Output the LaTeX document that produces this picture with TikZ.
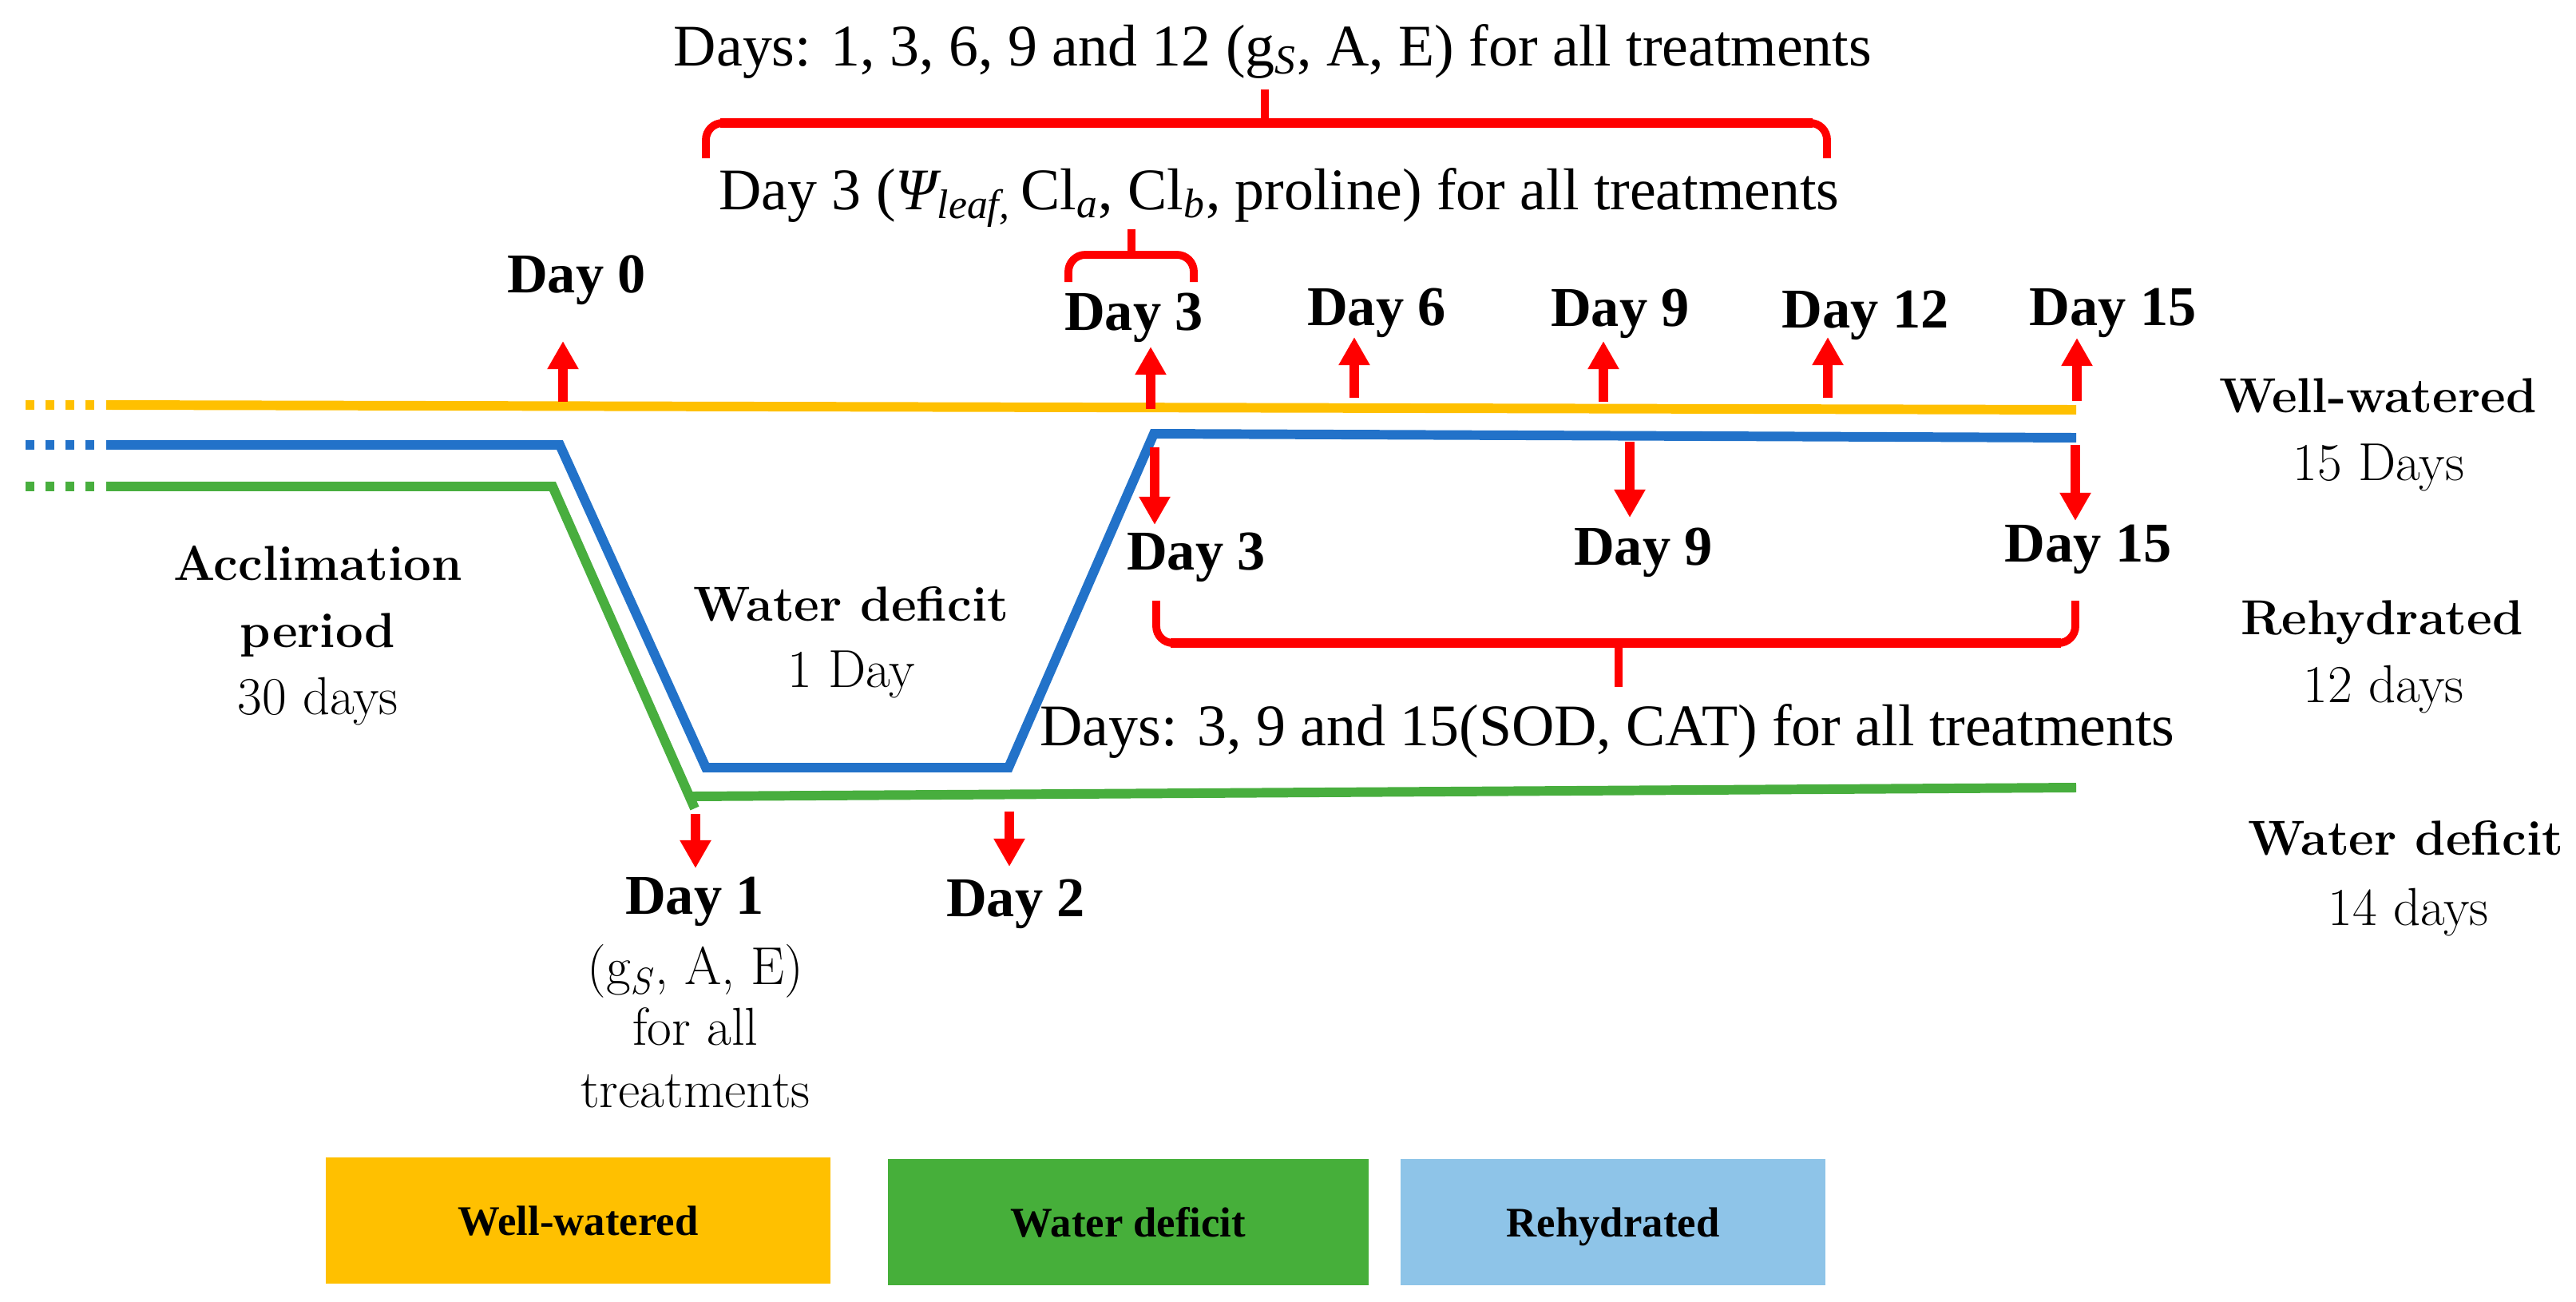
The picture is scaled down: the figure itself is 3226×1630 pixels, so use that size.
\documentclass[tikz,border=0pt]{standalone}
\usepackage{fontspec}
\newfontfamily\tnr{Liberation Serif}
\usetikzlibrary{arrows.meta}
\definecolor{wwY}{HTML}{FFC000}
\definecolor{rhB}{HTML}{2272C9}
\definecolor{wdG}{HTML}{48AE3E}
\definecolor{redA}{HTML}{FF0000}
\definecolor{boxG}{HTML}{46AF3A}
\definecolor{boxB}{HTML}{8EC4E8}
\begin{document}
\begin{tikzpicture}[x=0.01cm,y=-0.01cm,
  tline/.style={line width=3.4pt, line join=miter},
  dotline/.style={line width=3.4pt, dash pattern=on 3.1pt off 4pt},
  redarr/.style={draw=redA, line width=3.2pt, -{Triangle[width=10.5pt,length=10pt]}},
  brc/.style={draw=redA, line width=2.8pt, rounded corners=6pt},
  brcbar/.style={draw=redA, line width=3.4pt},
  toptxt/.style={font=\tnr\fontsize{21}{25}\selectfont, anchor=base, inner sep=0pt},
  dayl/.style={font=\tnr\bfseries\fontsize{20}{24}\selectfont, anchor=base, inner sep=0pt},
  pb/.style={font=\bfseries\fontsize{17.5}{21}\selectfont, anchor=base, inner sep=0pt},
  pr/.style={font=\fontsize{19}{23}\selectfont, anchor=base, inner sep=0pt},
  legbox/.style={draw=none, minimum height=1.58cm, inner sep=0pt, text depth=0pt,
     font=\tnr\bfseries\fontsize{15}{18}\selectfont}]
\useasboundingbox (0,0) rectangle (3226,1630);
\fill[white] (0,0) rectangle (3226,1630);

% ---------- timelines ----------
\draw[dotline, wwY] (32,507) -- (121,507);
\draw[dotline, rhB] (32,557) -- (121,557);
\draw[dotline, wdG] (32,609) -- (121,609);
\draw[tline, wwY] (133,507) -- (2600,513);
\draw[tline, wdG] (133,609) -- (692,609) -- (870,1012);
\draw[tline, wdG] (866,997) -- (2600,986);
\draw[tline, rhB] (133,557) -- (701,557) -- (884,961) -- (1263,961) -- (1445,543) -- (2600,548);

% ---------- top texts and braces ----------
\node[toptxt] (t1) at (1594,82) {Days: 1, 3, 6, 9 and 12 (g\textsubscript{\textit{S}}, A, E) for all treatments};
\node[toptxt] (t2) at (1602,262) {Day 3 (\textit{Ψ\textsubscript{leaf,}}\,Cl\textsubscript{\textit{a}}, Cl\textsubscript{\textit{b}}, proline) for all treatments};
\node[toptxt] (t3) at (2013,933) {Days: 3, 9 and 15(SOD, CAT) for all treatments};

\draw[brc] (884,198) -- (884,154) -- (2288,154) -- (2288,198);
\draw[brcbar] (902,154) -- (2270,154);
\draw[redA, line width=2.6pt] (1584,154) -- (1584,112);

\draw[brc] (1338,353) -- (1338,319) -- (1495,319) -- (1495,353);
\draw[redA, line width=2.6pt] (1417,319) -- (1417,287);

\draw[brc] (1448,752) -- (1448,805) -- (2599,805) -- (2599,752);
\draw[brcbar] (1466,805) -- (2581,805);
\draw[redA, line width=2.6pt] (2027,805) -- (2027,860);

% ---------- upper day labels and arrows ----------
\node[dayl] (u0) at (722,366) {Day 0};
\node[dayl] (u3) at (1420,413) {Day 3};
\node[dayl] (u6) at (1724,407) {Day 6};
\node[dayl] (u9) at (2029,408) {Day 9};
\node[dayl] (u12) at (2336,410) {Day 12};
\node[dayl] (u15) at (2646,407) {Day 15};

\coordinate (s0) at (705,503);  \coordinate (e0) at (705,427);
\coordinate (s3) at (1441,512); \coordinate (e3) at (1441,434);
\coordinate (s6) at (1696,498); \coordinate (e6) at (1696,422);
\coordinate (s9) at (2008,503); \coordinate (e9) at (2008,427);
\coordinate (s12) at (2289,498); \coordinate (e12) at (2289,422);
\coordinate (s15) at (2601,502); \coordinate (e15) at (2601,423);
\foreach \k in {0,3,6,9,12,15} \draw[redarr] (s\k) -- (e\k);

% ---------- lower day labels and arrows ----------
\node[dayl] (d3) at (1498,713) {Day 3};
\node[dayl] (d9) at (2058,707) {Day 9};
\node[dayl] (d15) at (2615,703) {Day 15};
\node[dayl] (d1) at (870,1144) {Day 1};
\node[dayl] (d2) at (1272,1147) {Day 2};

\coordinate (ds3) at (1446,560);  \coordinate (de3) at (1446,657);
\coordinate (ds9) at (2041,553);  \coordinate (de9) at (2041,648);
\coordinate (ds15) at (2599,557); \coordinate (de15) at (2599,652);
\coordinate (ds1) at (871,1019);  \coordinate (de1) at (871,1087);
\coordinate (ds2) at (1264,1016); \coordinate (de2) at (1264,1085);
\foreach \k in {3,9,15,1,2} \draw[redarr] (ds\k) -- (de\k);

% ---------- Day 1 details ----------
\node[pr] (g1) at (871,1232) {(g\textsubscript{\textit{S}}, A, E)};
\node[pr] (g2) at (871,1308) {for all};
\node[pr] (g3) at (871,1386) {treatments};

% ---------- phase labels ----------
\node[pb] (ac1) at (398,726) {Acclimation};
\node[pb] (ac2) at (398,810) {period};
\node[pr] (ac3) at (398,894) {30 days};

\node[pb] (wd1) at (1066,777) {Water deficit};
\node[pr] (wd2) at (1066,860) {1 Day};

\node[pb] (r1) at (2978,516) {Well-watered};
\node[pr] (r2) at (2979,601) {15 Days};
\node[pb] (r3) at (2983,794) {Rehydrated};
\node[pr] (r4) at (2985,879) {12 days};
\node[pb] (r5) at (3013,1070) {Water deficit};
\node[pr] (r6) at (3016,1158) {14 days};

% ---------- legend ----------
\node[legbox, fill=wwY, minimum width=6.32cm] (lg1) at (724,1528) {Well-watered};
\node[legbox, fill=boxG, minimum width=6.02cm] (lg2) at (1413,1530) {Water deficit};
\node[legbox, fill=boxB, minimum width=5.31cm] (lg3) at (2020,1530) {Rehydrated};
\end{tikzpicture}
\end{document}
